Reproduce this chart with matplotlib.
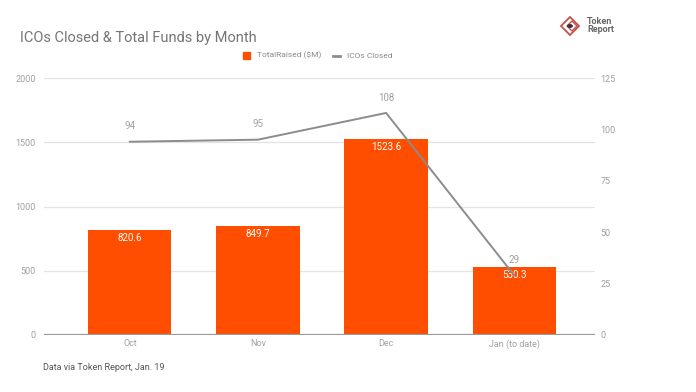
import matplotlib
matplotlib.use("Agg")
import matplotlib.pyplot as plt
from matplotlib.patches import Polygon, Circle

plt.rcParams['font.family'] = ['Roboto', 'DejaVu Sans']

categories = ["Oct", "Nov", "Dec", "Jan (to date)"]
total_raised = [820.6, 849.7, 1523.6, 530.3]
icos_closed = [94, 95, 108, 29]
left_ticks = [0, 500, 1000, 1500, 2000]
right_ticks = [0, 25, 50, 75, 100, 125]

bar_color = "#FF4E00"
line_color = "#8C8C8C"
text_gray = "#A0A0A0"

fig = plt.figure(figsize=(6.96, 3.92), dpi=100)
ax = fig.add_axes([44/696, 1-335/392, (595-44)/696, (335-78)/392])
ax2 = ax.twinx()

x = list(range(len(categories)))
ax.bar(x, total_raised, width=0.65, color=bar_color, zorder=3)
ax.set_xlim(-0.67, 3.63)
ax.set_ylim(0, 2000)
ax.set_yticks(left_ticks)
ax.set_yticklabels([str(t) for t in left_ticks])
ax.set_xticks(x)
ax.set_xticklabels(categories)
ax.grid(axis='y', color="#E3E3E3", linewidth=0.9, zorder=0)
ax.axhline(0, color="#9A9A9A", linewidth=1.6, zorder=4)
for s in ax.spines.values():
    s.set_visible(False)
for s in ax2.spines.values():
    s.set_visible(False)
ax.tick_params(axis='y', length=0, labelsize=6.5, colors=text_gray, pad=6)
ax.tick_params(axis='x', length=0, labelsize=6.5, colors=text_gray, pad=3)

for xi, v in zip(x, total_raised):
    ax.text(xi, v - 25, f"{v}", ha='center', va='top', color='white', fontsize=7, zorder=5)

ax2.set_ylim(0, 125)
ax2.set_yticks(right_ticks)
ax2.set_yticklabels([str(t) for t in right_ticks])
ax2.tick_params(axis='y', length=0, labelsize=6.5, colors=text_gray, pad=4)
ax2.plot(x, icos_closed, color=line_color, linewidth=1.4, zorder=5)
for xi, v in zip(x, icos_closed):
    ax2.text(xi, v + 5, str(v), ha='center', va='bottom', color=text_gray, fontsize=7)

# Title
fig.text(20/696, 1-38/392, "ICOs Closed & Total Funds by Month", fontsize=10.5,
         color="#757575", ha='left', va='center')

# Legend
fig.patches.append(plt.Rectangle((243/696, 1-59/392), 7/696, 7.5/392,
                                 transform=fig.transFigure, color=bar_color))
fig.text(257/696, 1-55.5/392, "TotalRaised ($M)", fontsize=6, color="#8A8A8A",
         ha='left', va='center')
fig.lines.append(plt.Line2D([333/696, 340/696], [1-55.5/392, 1-55.5/392],
                            transform=fig.transFigure, color=line_color, linewidth=2))
fig.text(347/696, 1-55.5/392, "ICOs Closed", fontsize=6, color="#8A8A8A",
         ha='left', va='center')

# Logo
cx, cy = 570, 26
r = 9
diamond = Polygon([((cx - r)/696, 1-cy/392), (cx/696, 1-(cy-r)/392),
                   ((cx + r)/696, 1-cy/392), (cx/696, 1-(cy+r)/392)],
                  closed=True, transform=fig.transFigure, fill=False,
                  edgecolor="#C9504A", linewidth=1.3)
fig.patches.append(diamond)
r2 = 5
diamond2 = Polygon([((cx - r2 + 2)/696, 1-cy/392), ((cx + 2)/696, 1-(cy-r2)/392),
                    ((cx + r2 + 2)/696, 1-cy/392), ((cx + 2)/696, 1-(cy+r2)/392)],
                   closed=True, transform=fig.transFigure, fill=False,
                   edgecolor="#C9504A", linewidth=1.0)
fig.patches.append(diamond2)
fig.patches.append(Circle((cx/696, 1-cy/392), 2.2/696, transform=fig.transFigure,
                          color="#333333"))
fig.text(587/696, 1-25.5/392, "Token\nReport", fontsize=6.5, color="#666666",
         ha='left', va='center', fontweight='bold', linespacing=0.85)

# Footer
fig.text(43/696, 1-367/392, "Data via Token Report, Jan. 19", fontsize=6.5,
         color="#555555", ha='left', va='center')

fig.savefig("out.png", dpi=100)
